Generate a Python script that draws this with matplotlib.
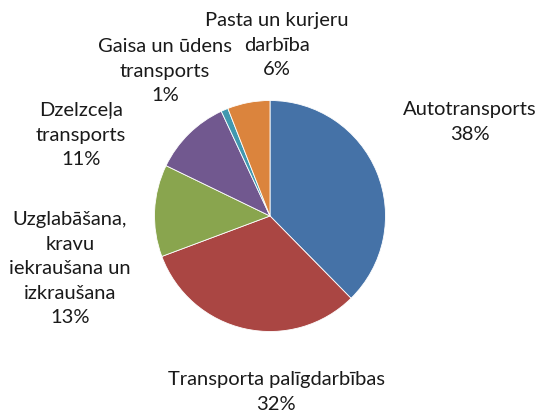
import matplotlib
matplotlib.use("Agg")
import matplotlib.pyplot as plt

categories = [
    "Autotransports",
    "Transporta palīgdarbības",
    "Uzglabāšana,\nkravu\niekraušana un\nizkraušana",
    "Dzelzceļa\ntransports",
    "Gaisa un ūdens\ntransports",
    "Pasta un kurjeru\ndarbība",
]
shares = [38, 32, 13, 11, 1, 6]
colors = ["#4572A7", "#AA4643", "#89A54E", "#71588F", "#4198AF", "#DB843D"]

# label anchors in figure pixels: (center x, baseline y of first line, from top)
label_pos = [(470, 115), (276, 385), (70, 225), (81, 116), (165, 52), (277, 26)]
line_pitch = 24.6

W, H = 550, 412
fig = plt.figure(figsize=(W / 100, H / 100), dpi=100)
cx, cy, r = 270, 216, 115.5
ax = fig.add_axes([(cx - r) / W, (H - cy - r) / H, 2 * r / W, 2 * r / H])
ax.pie(shares, colors=colors, startangle=90, counterclock=False, radius=1,
       wedgeprops=dict(edgecolor="white", linewidth=0.6))
ax.set_xlim(-1, 1)
ax.set_ylim(-1, 1)
ax.set_axis_off()

for name, val, (x, y) in zip(categories, shares, label_pos):
    lines = name.split("\n") + [f"{val}%"]
    for i, line in enumerate(lines):
        fig.text(x / W, 1 - (y + i * line_pitch) / H, line, ha="center",
                 va="baseline", fontsize=14.5, family=["Lato", "DejaVu Sans"],
                 color="#1a1a1a")

fig.savefig("out.png", dpi=100)
